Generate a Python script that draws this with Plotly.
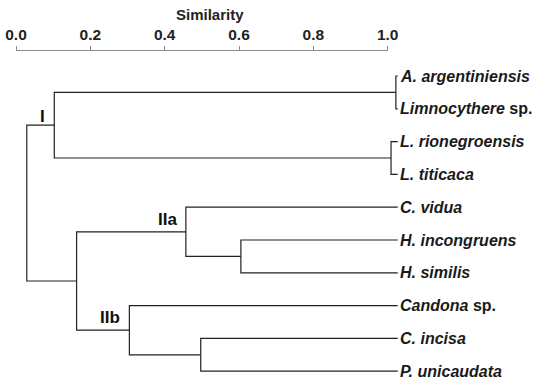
import plotly.graph_objects as go

# ---- data ----
leaves = ["A. argentiniensis", "Limnocythere sp.", "L. rionegroensis", "L. titicaca",
          "C. vidua", "H. incongruens", "H. similis", "Candona sp.", "C. incisa", "P. unicaudata"]
leaf_labels = ["<i>A. argentiniensis</i>", "<i>Limnocythere</i> sp.", "<i>L. rionegroensis</i>",
               "<i>L. titicaca</i>", "<i>C. vidua</i>", "<i>H. incongruens</i>", "<i>H. similis</i>",
               "<i>Candona</i> sp.", "<i>C. incisa</i>", "<i>P. unicaudata</i>"]
leaf_tip = 1.027
# merges: (child_a, child_b, similarity); children are leaf indices or "n<k>" node ids
merges = [
    (0, 1, 1.022),          # n0
    (2, 3, 1.009),          # n1
    ("n0", "n1", 0.103),    # n2  cluster I
    (5, 6, 0.605),          # n3
    (4, "n3", 0.457),       # n4  cluster IIa
    (8, 9, 0.497),          # n5
    (7, "n5", 0.305),       # n6  cluster IIb
    ("n4", "n6", 0.163),    # n7  cluster II
    ("n2", "n7", 0.029),    # n8  root
]
cluster_names = ["I", "IIa", "IIb"]
cluster_nodes = ["n2", "n4", "n6"]
cluster_yshift = [-3, 1, 1]
tick_vals = [0.0, 0.2, 0.4, 0.6, 0.8, 1.0]
tick_text = ["0.0", "0.2", "0.4", "0.6", "0.8", "1.0"]
axis_title = "Similarity"

# ---- geometry from data ----
pos = {i: (leaf_tip, float(i)) for i in range(len(leaves))}
xs, ys = [], []
for k, (a, b, h) in enumerate(merges):
    xa, ya = pos[a]
    xb, yb = pos[b]
    xs += [xa, h, h, xb, None]
    ys += [ya, ya, yb, yb, None]
    pos[f"n{k}"] = (h, (ya + yb) / 2)

S = 371.7  # px per unit
W, H = 535, 384
x0px = 16
ypx0, ystep = 76, 32.8

fig = go.Figure()
fig.add_trace(go.Scatter(x=xs, y=ys, mode="lines", line=dict(color="#222222", width=1.2),
                         hoverinfo="skip", showlegend=False))
fig.add_trace(go.Scatter(x=[0, 1], y=[0, 0], mode="markers", marker=dict(opacity=0),
                         xaxis="x2", yaxis="y2", hoverinfo="skip", showlegend=False))

font_fam = "Liberation Sans, Arial, sans-serif"
for i, lab in enumerate(leaf_labels):
    fig.add_annotation(x=leaf_tip, y=i, text=f"<b>{lab}</b>", showarrow=False,
                       xanchor="left", yanchor="middle", xshift=0,
                       font=dict(family=font_fam, size=16, color="#1a1a1a"))

for name, nid, ysh in zip(cluster_names, cluster_nodes, cluster_yshift):
    hx, hy = pos[nid]
    fig.add_annotation(x=hx, y=hy, text=f"<b>{name}</b>", showarrow=False,
                       xanchor="right", yanchor="bottom", xshift=-7, yshift=ysh,
                       font=dict(family=font_fam, size=17, color="#111111"))

fig.add_annotation(x=209.5 / W, y=1 - 14 / H, xref="paper", yref="paper",
                   text=f"<b>{axis_title}</b>", showarrow=False,
                   xanchor="center", yanchor="middle",
                   font=dict(family=font_fam, size=15, color="#222222"))

fig.update_layout(
    width=W, height=H, margin=dict(l=0, r=0, t=0, b=0, autoexpand=False),
    plot_bgcolor="white", paper_bgcolor="white",
    xaxis=dict(domain=[0, 1], range=[-x0px / S, (W - x0px) / S], visible=False, automargin=False),
    yaxis=dict(domain=[0, 1], range=[(H - ypx0) / ystep, -ypx0 / ystep], visible=False,
               automargin=False),
    xaxis2=dict(domain=[x0px / W, (x0px + S) / W], range=[0, 1], anchor="y2", side="top",
                tickvals=tick_vals, ticktext=[f"<b>{t}</b>" for t in tick_text],
                showline=True, linecolor="#8a8a8a", automargin=False,
                linewidth=1, ticks="outside", ticklen=4, tickcolor="#8a8a8a", showgrid=False,
                zeroline=False,
                tickfont=dict(family=font_fam, size=15.5, color="#222222")),
    yaxis2=dict(domain=[0.80, 1 - 50.7 / H], anchor="x2", visible=False, range=[0, 1],
                automargin=False),
)
fig.write_html("out.html")
